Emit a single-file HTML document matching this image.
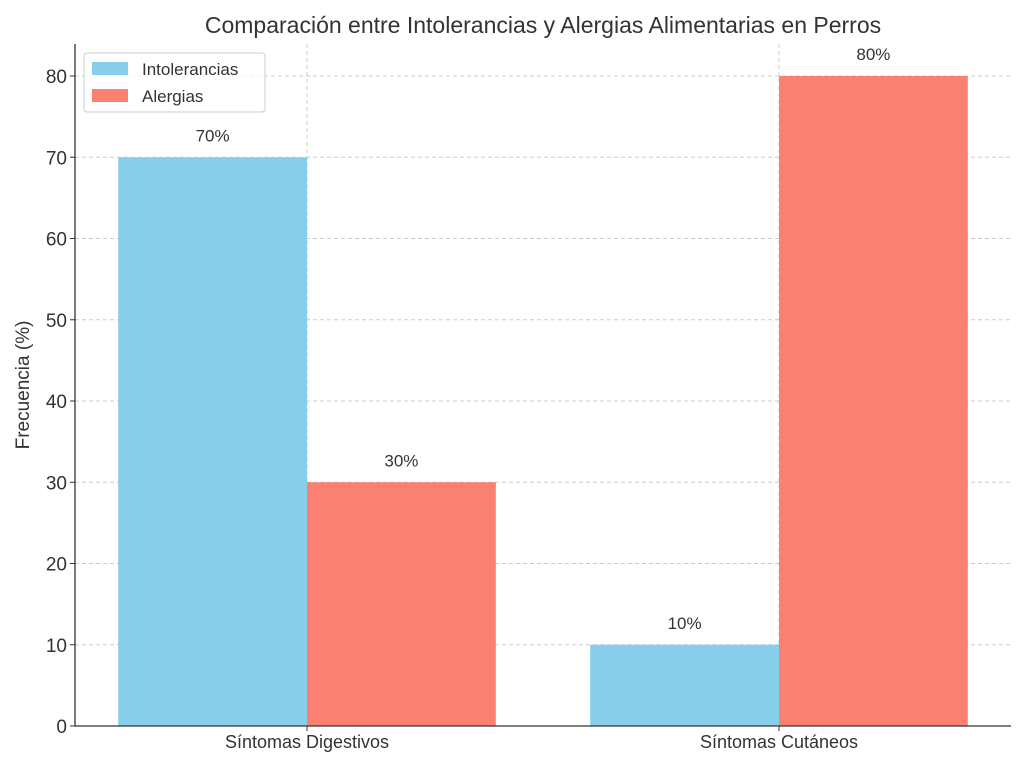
<!DOCTYPE html>
<html><head><meta charset="utf-8"><style>
body{margin:0;background:#fff;}
svg text{font-family:"Liberation Sans","DejaVu Sans",sans-serif;fill:#333;}
</style></head><body>
<svg id="chart" width="1024" height="765" xmlns="http://www.w3.org/2000/svg">
<text x="543" y="33" font-size="23" text-anchor="middle">Comparación entre Intolerancias y Alergias Alimentarias en Perros</text>
<text transform="translate(29,385) rotate(-90)" font-size="19" text-anchor="middle">Frecuencia (%)</text>
<g id="grid"></g><g id="bars"></g><g id="labels"></g><g id="axes"></g>
<g>
<rect x="84" y="53" width="181" height="59" rx="3" fill="#fff" fill-opacity="0.8" stroke="#ccc"/>
<rect x="92" y="62" width="36" height="13" fill="#87CEEB"/>
<text x="142" y="75" font-size="17">Intolerancias</text>
<rect x="92" y="89" width="36" height="13" fill="#FA8072"/>
<text x="142" y="102" font-size="17">Alergias</text>
</g>
</svg>
<script>
const categories=["Síntomas Digestivos","Síntomas Cutáneos"];
const intolerancias=[70,10];
const alergias=[30,80];
const yTicks=[0,10,20,30,40,50,60,70,80];
const NS="http://www.w3.org/2000/svg";
const L=75,R=1011,T=44,B=726;
function y(v){return 726-v*8.125;}
function x(c){return 307+c*472;}
const bw=188.8;
function mk(p,t,a){const e=document.createElementNS(NS,t);for(const k in a)e.setAttribute(k,a[k]);document.getElementById(p).appendChild(e);return e;}
yTicks.forEach(v=>{
 const g=mk("grid","line",{x1:L,x2:R,y1:y(v),y2:y(v),stroke:"#ccc","stroke-dasharray":"4,3"});
 
 
 const tk=mk("axes","line",{x1:L-5,x2:L,y1:y(v),y2:y(v),stroke:"#333"});
 
 
 const t=mk("axes","text",{x:L-8,y:y(v)+7,"font-size":"19","text-anchor":"end"});t.textContent=v;
 
 
});
categories.forEach((c,i)=>{
 const g=mk("grid","line",{x1:x(i),x2:x(i),y1:T,y2:B,stroke:"#ccc","stroke-dasharray":"4,3"});
 
 
 const b1=mk("bars","rect",{x:x(i)-bw,y:y(intolerancias[i]),width:bw,height:B-y(intolerancias[i]),fill:"#87CEEB"});
 
 
 const b2=mk("bars","rect",{x:x(i),y:y(alergias[i]),width:bw,height:B-y(alergias[i]),fill:"#FA8072"});
 
 
 const l1=mk("labels","text",{x:x(i)-bw/2,y:y(intolerancias[i])-16,"font-size":"17","text-anchor":"middle"});l1.textContent=intolerancias[i]+"%";
 
 
 const l2=mk("labels","text",{x:x(i)+bw/2,y:y(alergias[i])-16,"font-size":"17","text-anchor":"middle"});l2.textContent=alergias[i]+"%";
 
 
 const tk=mk("axes","line",{x1:x(i),x2:x(i),y1:B,y2:B+5,stroke:"#333"});
 
 
 const t=mk("axes","text",{x:x(i),y:B+22,"font-size":"18","text-anchor":"middle"});t.textContent=c;
 
 
});
const ax=mk("axes","path",{d:`M${L},${T}V${B}H${R}`,fill:"none",stroke:"#333","stroke-width":"1.3"});


</script>
</body></html>
